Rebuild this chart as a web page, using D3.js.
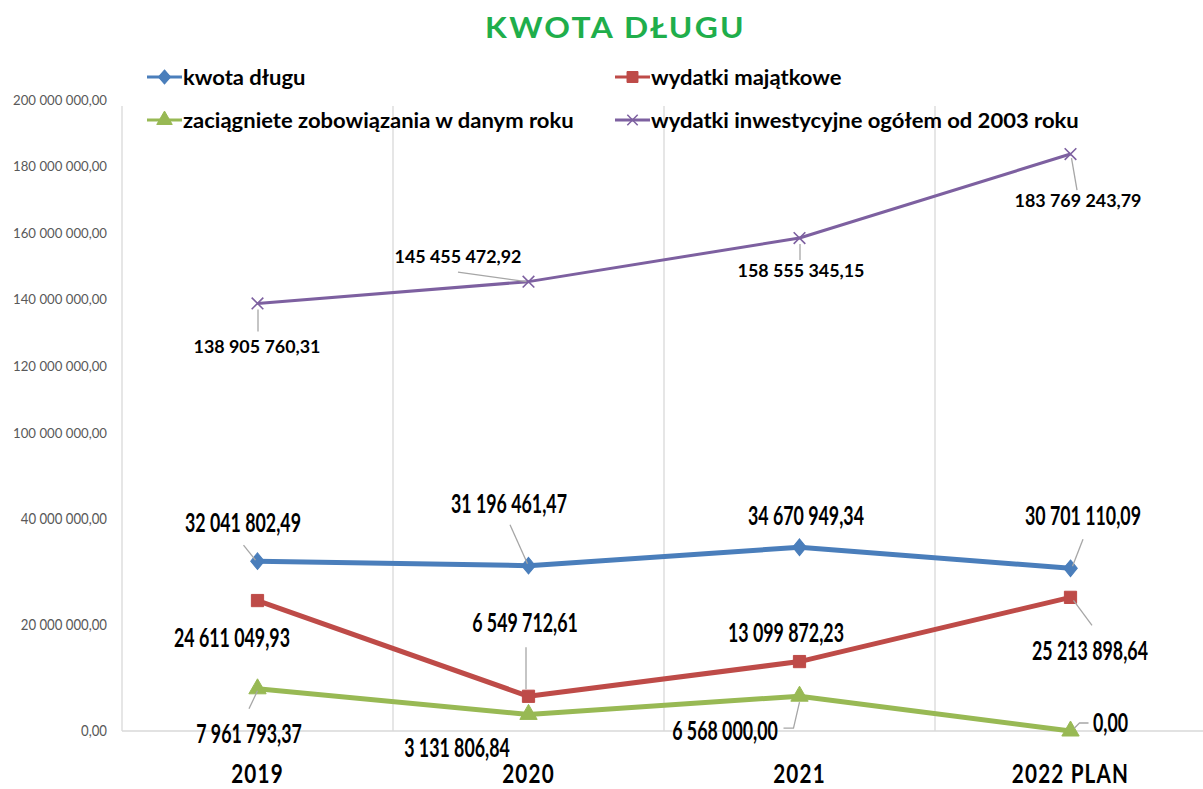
<!DOCTYPE html>
<html>
<head>
<meta charset="utf-8">
<script src="https://cdn.jsdelivr.net/npm/d3@7"></script>
<style>
  html, body { margin: 0; padding: 0; background: #ffffff; }
  svg { display: block; }
</style>
</head>
<body>
<svg id="chart" width="1203" height="789"></svg>
<script>
// ---------------- DATA ----------------
const categories = ["2019", "2020", "2021", "2022 PLAN"];
const kwotaDlugu = [32041802.49, 31196461.47, 34670949.34, 30701110.09];
const wydatkiMajatkowe = [24611049.93, 6549712.61, 13099872.23, 25213898.64];
const zaciagnieteZobowiazania = [7961793.37, 3131806.84, 6568000.00, 0.00];
const wydatkiInwestycyjne = [138905760.31, 145455472.92, 158555345.15, 183769243.79];
const seriesNames = ["kwota długu", "wydatki majątkowe", "zaciągniete zobowiązania w danym roku", "wydatki inwestycyjne ogółem od 2003 roku"];
const yTickValues = [0, 20000000, 40000000, 100000000, 120000000, 140000000, 160000000, 180000000, 200000000];
const titleText = "KWOTA DŁUGU";

// ---------------- LAYOUT / STYLE ----------------
const W = 1203, H = 789;
const plotLeft = 122, plotRight = 1206;
// broken value axis: 0..40M in lower part, 100M..200M in upper part
const yDomain = [0, 40000000, 100000000, 200000000];
const yRange = [731, 519, 433, 100];

const colors = ["#4a7ebb", "#be4b48", "#98b954", "#7d60a0"];
const symbols = [d3.symbolDiamond, d3.symbolSquare, d3.symbolTriangle, d3.symbolX];
const symSizes = [110, 150, 130, 90];
const lineWidths = [5, 5, 5, 3];

// label layout per series / point: [dx, dy] of label (center, baseline) relative to point,
// and optional leader polyline relative to point
const labelLayout = [
  [ {d:[-14.5,-29], l:[[-14,-16],[-2,-1]]}, {d:[-19.5,-53], l:[[-18.5,-41],[-1,-2]]}, {d:[6.5,-22], l:null}, {d:[12.5,-43], l:[[12.5,-29],[2,-2]]} ],
  [ {d:[-25.5,46], l:null}, {d:[-3.5,-64], l:[[-2.5,-49],[-2.5,-7]]}, {d:[-13.5,-20], l:null}, {d:[19.5,63], l:[[21.5,28],[3,3]]} ],
  [ {d:[-8.5,54], l:[[-8.5,20],[0,2]]}, {d:[-71.5,43], l:null}, {d:[-74.5,44], l:[[-16,32],[-6,32],[0,6]]}, {d:[40,1], l:[[4,-3],[9,-8],[18,-8]]} ],
  [ {d:[-0.5,50], l:[[0.5,28],[0.5,6]]}, {d:[-70.5,-18.5], l:[[-70.5,-9.5],[-2,0]]}, {d:[1.5,39], l:[[0.5,22],[0.5,6]]}, {d:[7.5,53], l:[[6.5,36],[1,4]]} ]
];

const allSeries = [kwotaDlugu, wydatkiMajatkowe, zaciagnieteZobowiazania, wydatkiInwestycyjne];

const pl = d3.formatLocale({decimal: ",", thousands: " ", grouping: [3], currency: ["", ""]});
const fmt = pl.format(",.2f");

const svg = d3.select("#chart");
const FONT = "Lato, 'Open Sans', sans-serif";

// measuring helper for horizontal squeezing (to imitate a condensed font)
const meas = svg.append("text").attr("visibility", "hidden");
function widthOf(str, size, weight) {
  meas.attr("font-family", FONT).attr("font-size", size).attr("font-weight", weight).text(str);
  return meas.node().getComputedTextLength();
}
function scaleFor(sample, size, weight, target) {
  return target / widthOf(sample, size, weight);
}
function squeezedText(g, str, x, y, size, weight, sx, anchor, fill, ls) {
  const t = g.append("text")
    .attr("transform", `translate(${x},${y}) scale(${sx},1)`)
    .attr("font-family", FONT)
    .attr("font-size", size)
    .attr("font-weight", weight)
    .attr("text-anchor", anchor)
    .attr("fill", fill)
    .text(str);
  if (ls) t.attr("letter-spacing", ls);
  return t;
}

// ---------------- SCALES ----------------
const x = d3.scaleBand().domain(categories).range([plotLeft, plotRight]).paddingInner(0).paddingOuter(0);
const cx = c => x(c) + x.bandwidth() / 2;
const y = d3.scaleLinear().domain(yDomain).range(yRange);

// ---------------- GRID ----------------
const gridTop = y(200000000) + 6;
const gridX = categories.map(c => x(c)).concat([plotRight]);
svg.append("g").selectAll("line").data(gridX).join("line")
  .attr("x1", d => d).attr("x2", d => d)
  .attr("y1", gridTop).attr("y2", y(0))
  .attr("stroke", "#d9d9d9").attr("stroke-width", 1.3);
svg.append("line")
  .attr("x1", plotLeft).attr("x2", plotRight)
  .attr("y1", y(0)).attr("y2", y(0))
  .attr("stroke", "#d9d9d9").attr("stroke-width", 1.5);

// ---------------- Y AXIS ----------------
const yAxis = d3.axisLeft(y).tickValues(yTickValues).tickSize(0).tickFormat(() => "");
const yg = svg.append("g").attr("transform", `translate(${plotLeft},0)`).call(yAxis);
yg.select(".domain").remove();
const tickSx = scaleFor("100 000 000,00", 13, 400, 94);
yTickValues.forEach(v => {
  const lower = v <= 40000000;
  const size = lower ? 15 : 13;
  const sx = lower ? tickSx * 13 / 15 : tickSx;
  squeezedText(svg, fmt(v), 107, y(v) + (lower ? 5 : 4.5), size, 400, sx, "end", "#595959");
});

// ---------------- X AXIS LABELS ----------------
const xSx = scaleFor("2022 PLAN", 27, 700, 107);
const xAxis = d3.axisBottom(x).tickSize(0).tickFormat(() => "");
const xg = svg.append("g").attr("transform", `translate(0,${y(0)})`).call(xAxis);
xg.select(".domain").remove();
categories.forEach(c => {
  squeezedText(svg, c, cx(c), 783, 27, 700, xSx, "middle", "#000", "1.5");
});

// ---------------- LINES ----------------
const line = d3.line().x((d, i) => cx(categories[i])).y(d => y(d));
allSeries.forEach((s, k) => {
  svg.append("path").datum(s)
    .attr("d", line)
    .attr("fill", "none")
    .attr("stroke", colors[k])
    .attr("stroke-width", lineWidths[k])
    .attr("stroke-linejoin", "round");
});

// ---------------- MARKERS ----------------
allSeries.forEach((s, k) => {
  svg.append("g").selectAll("path").data(s).join("path")
    .attr("transform", (d, i) => `translate(${cx(categories[i])},${y(d)})${k === 0 ? " scale(1.2,0.85)" : ""}`)
    .attr("d", d3.symbol().type(symbols[k]).size(symSizes[k]))
    .attr("fill", k === 3 ? "none" : colors[k])
    .attr("stroke", colors[k])
    .attr("stroke-width", k === 3 ? 1.6 : 1);
});

// ---------------- DATA LABELS ----------------
const bigSx = scaleFor("32 041 802,49", 26, 700, 116);
const smallSx = scaleFor("138 905 760,31", 17, 700, 127);
allSeries.forEach((s, k) => {
  s.forEach((v, i) => {
    const px = cx(categories[i]), py = y(v);
    const lay = labelLayout[k][i];
    if (lay.l) {
      svg.append("path")
        .attr("d", d3.line()(lay.l.map(p => [px + p[0], py + p[1]])))
        .attr("fill", "none").attr("stroke", "#a6a6a6").attr("stroke-width", 1.3);
    }
    if (k === 3) {
      squeezedText(svg, fmt(v), px + lay.d[0], py + lay.d[1], 17, 700, smallSx, "middle", "#000");
    } else {
      squeezedText(svg, fmt(v), px + lay.d[0], py + lay.d[1], 26, 700, bigSx, "middle", "#000");
    }
  });
});

// ---------------- TITLE ----------------
const tSx = scaleFor(titleText, 28, 700, 236);
svg.append("text")
  .attr("transform", `translate(${W / 2 + 14},38) scale(${tSx},1)`)
  .attr("font-family", "'Comic Sans MS', Lato, sans-serif")
  .attr("font-size", 28).attr("font-weight", 700)
  .attr("letter-spacing", 2)
  .attr("text-anchor", "middle")
  .attr("fill", "#1fae4b")
  .text(titleText);

// ---------------- LEGEND ----------------
const legPos = [[147, 77], [615, 77], [147, 120], [615, 120]];
const legSx = scaleFor(seriesNames[3], 20, 700, 428);
seriesNames.forEach((name, k) => {
  const [lx, ly] = legPos[k];
  const g = svg.append("g").attr("transform", `translate(${lx},${ly})`);
  g.append("line").attr("x1", 0).attr("x2", 35).attr("y1", 0).attr("y2", 0)
    .attr("stroke", colors[k]).attr("stroke-width", 3);
  g.append("path").attr("transform", `translate(17.5,0)${k === 0 ? " scale(1.2,0.8)" : ""}`)
    .attr("d", d3.symbol().type(symbols[k]).size(symSizes[k] * 0.8))
    .attr("fill", k === 3 ? "none" : colors[k])
    .attr("stroke", colors[k]).attr("stroke-width", k === 3 ? 1.5 : 1);
  squeezedText(g, name, 36, 8, 20, 700, legSx, "start", "#000");
});

meas.remove();
</script>
</body>
</html>
